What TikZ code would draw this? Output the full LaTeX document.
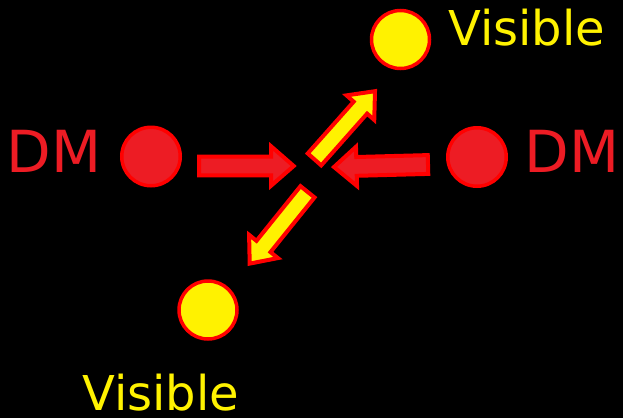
\documentclass[tikz,border=0pt]{standalone}
\usepackage{fontspec}
\setmainfont{DejaVu Sans}
\usetikzlibrary{calc}
\definecolor{dmred}{HTML}{ED1C24}
\definecolor{visyel}{HTML}{FFF200}
\definecolor{edgered}{HTML}{FF0000}
\tikzset{
  dmdot/.style={circle, fill=dmred, draw=edgered, line width=3.5pt, minimum size=58.5pt, inner sep=0pt},
  visdot/.style={circle, fill=visyel, draw=edgered, line width=3.5pt, minimum size=58pt, inner sep=0pt},
  dmlabel/.style={anchor=base west, inner sep=0pt, text=dmred, font=\fontsize{58}{62}\selectfont},
  vislabel/.style={anchor=base west, inner sep=0pt, text=visyel, font=\fontsize{48}{52}\selectfont},
  redarrow/.style={fill=dmred, draw=edgered, line width=4pt, line join=miter},
  yelarrow/.style={fill=visyel, draw=edgered, line width=4pt, line join=miter},
}
% #1 style, #2 tail, #3 tip, #4 shaft half width, #5 head half width, #6 head length
\newcommand\blockarrow[6]{%
  \coordinate (bah) at ($(#3)!#6!(#2)$);
  \filldraw[#1] ($(#2)!#4!90:(#3)$) -- ($(bah)!#4!90:(#3)$) -- ($(bah)!#5!90:(#3)$)
    -- (#3) -- ($(bah)!#5!-90:(#3)$) -- ($(bah)!#4!-90:(#3)$) -- ($(#2)!#4!-90:(#3)$) -- cycle;
}
\begin{document}
\begin{tikzpicture}[x=1pt,y=-1pt]
  \fill[black] (0,0) rectangle (623,418);
  \useasboundingbox (0,0) rectangle (623,418);

  % dots
  \node[dmdot] (dmL) at (151,156.5) {};
  \node[dmdot] (dmR) at (477,157) {};
  \node[visdot] (visT) at (400.5,39.5) {};
  \node[visdot] (visB) at (208,310) {};

  % labels
  \node[dmlabel] (dmLt) at (6.3,172.3) {DM};
  \node[dmlabel] (dmRt) at (524.3,172.3) {DM};
  \node[vislabel] (visTt) at (448,45) {Visible};
  \node[vislabel] (visBt) at (82,410) {Visible};

  % arrow end points
  \coordinate (aLtail) at (199,166);
  \coordinate (aLtip) at (293.7,166);
  \coordinate (aRtail) at (428,164.5);
  \coordinate (aRtip) at (334,167);
  \coordinate (aUtail) at (314.5,159.4);
  \coordinate (aUtip) at (375,91.2);
  \coordinate (aDtail) at (307.5,191.8);
  \coordinate (aDtip) at (249.7,263.6);

  \blockarrow{redarrow}{aLtail}{aLtip}{9.4pt}{19.6pt}{22.5pt}
  \blockarrow{redarrow}{aRtail}{aRtip}{9.4pt}{19.6pt}{22.5pt}
  \blockarrow{yelarrow}{aUtail}{aUtip}{9pt}{18.5pt}{22pt}
  \blockarrow{yelarrow}{aDtail}{aDtip}{9pt}{18.5pt}{22pt}
\end{tikzpicture}
\end{document}
